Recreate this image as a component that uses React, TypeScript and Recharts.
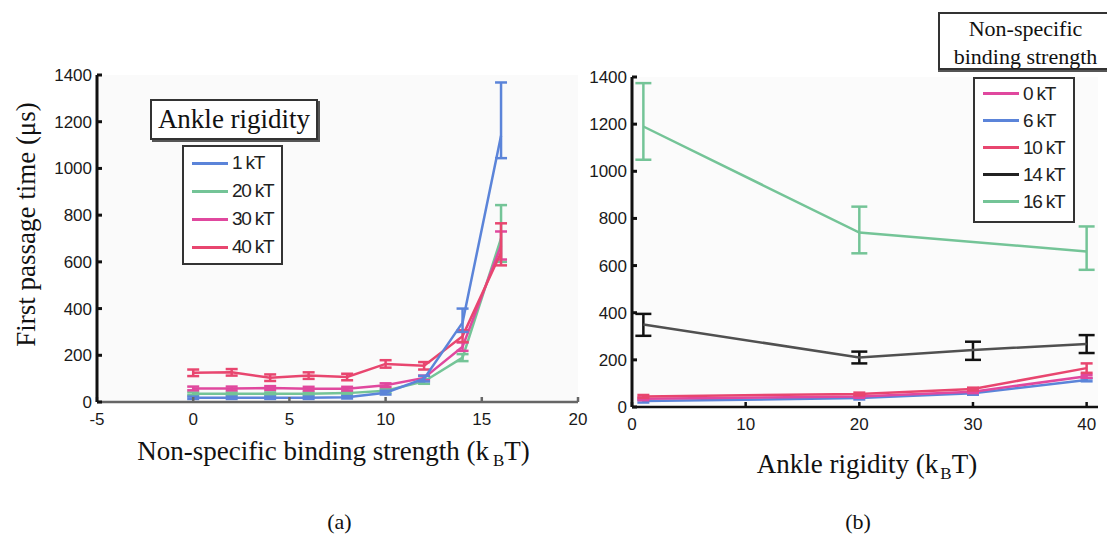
import React from "react";
import { LineChart, Line, XAxis, YAxis, ErrorBar, Legend, CartesianGrid } from "recharts";

// (a) first passage time vs non-specific binding strength, one series per ankle rigidity
const bindingX = [0, 2, 4, 6, 8, 10, 12, 14, 16];
const rig1 = [18, 18, 18, 18, 20, 40, 100, 340, 1140];
const rig1Err = [[5, 5], [5, 5], [5, 5], [5, 5], [5, 5], [8, 8], [12, 12], [40, 60], [96, 228]];
const rig20 = [35, 35, 35, 35, 38, 48, 88, 190, 700];
const rig20Err = [[6, 6], [6, 6], [6, 6], [6, 6], [6, 6], [8, 8], [10, 10], [15, 15], [100, 143]];
const rig30 = [58, 58, 60, 57, 57, 72, 103, 237, 670];
const rig30Err = [[8, 8], [8, 8], [8, 8], [8, 8], [8, 8], [8, 8], [10, 10], [18, 18], [60, 60]];
const rig40 = [125, 127, 104, 113, 107, 163, 155, 282, 640];
const rig40Err = [[14, 14], [14, 14], [14, 14], [14, 14], [14, 14], [16, 16], [16, 16], [25, 25], [55, 125]];

// (b) first passage time vs ankle rigidity, one series per binding strength
const rigidityX = [1, 20, 30, 40];
const bind0 = [35, 45, 65, 130];
const bind6 = [25, 38, 58, 115];
const bind10 = [45, 55, 76, 165];
const bind10Err = [[6, 6], [6, 6], [6, 6], [20, 20]];
const bind14 = [350, 210, 242, 267];
const bind14Err = [[48, 45], [25, 25], [42, 35], [38, 38]];
const bind16 = [1190, 740, null, 660];
const bind16Err = [[141, 184], [88, 110], null, [78, 106]];

const yTicks = [0, 200, 400, 600, 800, 1000, 1200, 1400];
const xTicksA = [-5, 0, 5, 10, 15, 20];
const xTicksB = [0, 10, 20, 30, 40];

const BLUE = "#5b84d9";
const GREEN = "#74c497";
const MAGENTA = "#e0489e";
const RED = "#e8466f";
const DARK = "#505050";

const legendA = [
  { name: "1 kT", color: BLUE },
  { name: "20 kT", color: GREEN },
  { name: "30 kT", color: MAGENTA },
  { name: "40 kT", color: RED },
];
const legendB = [
  { name: "0 kT", color: MAGENTA },
  { name: "6 kT", color: BLUE },
  { name: "10 kT", color: RED },
  { name: "14 kT", color: "#222" },
  { name: "16 kT", color: GREEN },
];

const dataA = bindingX.map((x, i) => ({
  x,
  r1: rig1[i], r1e: rig1Err[i],
  r20: rig20[i], r20e: rig20Err[i],
  r30: rig30[i], r30e: rig30Err[i],
  r40: rig40[i], r40e: rig40Err[i],
}));

const dataB = rigidityX.map((x, i) => ({
  x,
  b0: bind0[i], b0e: 6,
  b6: bind6[i], b6e: 6,
  b10: bind10[i], b10e: bind10Err[i],
  b14: bind14[i], b14e: bind14Err[i],
  b16: bind16[i], b16e: bind16Err[i],
}));

const tickFont = { fill: "#1a1a1a", fontSize: 17, fontFamily: "Liberation Sans, Arial, sans-serif" };
const serif = "Liberation Serif, Times New Roman, serif";
const noTick = () => <g />;

function Entries({ items, width, rowH, top }: { items: { name: string; color: string }[]; width: number; rowH: number; top: number }) {
  return (
    <div style={{ position: "absolute", left: 0, top: 0, width, height: "100%", paddingTop: top, boxSizing: "border-box" }}>
      {items.map((it) => (
        <div key={it.name} style={{ display: "flex", alignItems: "center", height: rowH }}>
          <div style={{ marginLeft: 8, width: 36, height: 3, background: it.color }} />
          <span style={{ marginLeft: 4, fontFamily: "Liberation Sans, Arial, sans-serif", fontSize: 19, letterSpacing: -1.2, color: "#222" }}>{it.name}</span>
        </div>
      ))}
    </div>
  );
}

function LegendA() {
  return (
    <div style={{ position: "relative", width: 170, height: 170 }}>
      <div style={{ position: "absolute", left: 0, top: 0, width: 164, height: 37, border: "2px solid #333", boxShadow: "2px 2px 0 #555", background: "#fff", fontFamily: serif, fontSize: 27, color: "#111", display: "flex", alignItems: "center", justifyContent: "center", whiteSpace: "nowrap" }}>
        Ankle rigidity
      </div>
      <div style={{ position: "absolute", left: 32, top: 46, width: 97, height: 116, border: "2px solid #333", background: "#fff" }}>
        <Entries items={legendA} width={97} rowH={28} top={2} />
      </div>
    </div>
  );
}

function LegendB() {
  return (
    <div style={{ position: "relative", width: 175, height: 210 }}>
      <div style={{ position: "absolute", left: 0, top: 0, width: 175, height: 58, border: "2px solid #333", boxShadow: "0 2px 0 #555", background: "#fff", fontFamily: serif, fontSize: 22, lineHeight: "28px", color: "#111", textAlign: "center", paddingTop: 1, boxSizing: "border-box", whiteSpace: "nowrap" }}>
        Non-specific
        <br />
        binding strength
      </div>
      <div style={{ position: "absolute", left: 35, top: 65, width: 98, height: 142, border: "2px solid #333", background: "#fff" }}>
        <Entries items={legendB} width={98} rowH={27} top={1} />
      </div>
    </div>
  );
}

export default function App() {
  return (
    <div style={{ position: "absolute", left: 0, top: 0, width: 1107, height: 541, background: "#fff", overflow: "hidden" }}>
      <div style={{ position: "absolute", left: 0, top: 0 }}>
        <LineChart width={600} height={541} data={dataA} margin={{ top: 75, right: 22, bottom: 79, left: 52 }}>
          <CartesianGrid horizontal={false} vertical={false} fill="#fafafa" />
          <XAxis dataKey="x" type="number" domain={[-5, 20]} ticks={xTicksA} interval={0} height={60} stroke="#666" strokeWidth={2.5}
            tickSize={-5} tickMargin={16} tick={tickFont}
            label={{
              content: ({ viewBox }: any) => (
                <g fontFamily={serif} fill="#111">
                  <text x={viewBox.x + viewBox.width / 2 - 4} y={viewBox.y + 58} textAnchor="middle" fontSize={27}>
                    Non-specific binding strength (k<tspan dx={4} dy={6} fontSize={17}>B</tspan><tspan dy={-6}>T)</tspan>
                  </text>
                  <text x={viewBox.x + viewBox.width / 2 + 2} y={viewBox.y + 127} textAnchor="middle" fontSize={22}>(a)</text>
                </g>
              ),
            }} />
          <XAxis xAxisId="top" orientation="top" type="number" domain={[-5, 20]} ticks={xTicksA} interval={0} height={0} stroke="#777" strokeWidth={2} tickSize={-5} tick={noTick} />
          <YAxis type="number" domain={[0, 1400]} ticks={yTicks} interval={0} width={45} stroke="#111" strokeWidth={3}
            tickSize={-5} tickMargin={10} tick={tickFont}
            label={{
              content: ({ viewBox }: any) => {
                const cx = viewBox.x - 26;
                const cy = viewBox.y + viewBox.height / 2 - 14;
                return (
                  <text x={cx} y={cy} transform={`rotate(-90 ${cx} ${cy})`}
                    textAnchor="middle" dominantBaseline="central" fontFamily={serif} fontSize={27} fill="#111">
                    First passage time (μs)
                  </text>
                );
              },
            }} />
          <YAxis yAxisId="right" orientation="right" type="number" domain={[0, 1400]} ticks={yTicks} interval={0} width={0} stroke="#111" strokeWidth={2.5} tickSize={-5} tick={noTick} />
          <Line dataKey="r20" stroke={GREEN} strokeWidth={2.5} dot={false} isAnimationActive={false}>
            <ErrorBar dataKey="r20e" width={6} stroke={GREEN} strokeWidth={2.5} isAnimationActive={false} />
          </Line>
          <Line dataKey="r30" stroke={MAGENTA} strokeWidth={2.5} dot={false} isAnimationActive={false}>
            <ErrorBar dataKey="r30e" width={6} stroke={MAGENTA} strokeWidth={2.5} isAnimationActive={false} />
          </Line>
          <Line dataKey="r40" stroke={RED} strokeWidth={2.5} dot={false} isAnimationActive={false}>
            <ErrorBar dataKey="r40e" width={6} stroke={RED} strokeWidth={2.5} isAnimationActive={false} />
          </Line>
          <Line dataKey="r1" stroke={BLUE} strokeWidth={2.5} dot={false} isAnimationActive={false}>
            <ErrorBar dataKey="r1e" width={6} stroke={BLUE} strokeWidth={2.5} isAnimationActive={false} />
          </Line>
          <Legend layout="vertical" align="center" verticalAlign="middle" content={() => <LegendA />}
            wrapperStyle={{ left: 150, top: 99, width: 170, height: 170 }} />
        </LineChart>
      </div>
      <div style={{ position: "absolute", left: 560, top: 0 }}>
        <LineChart width={547} height={541} data={dataB} margin={{ top: 77, right: 9, bottom: 74, left: 27 }}>
          <CartesianGrid horizontal={false} vertical={false} fill="#fbfbfb" />
          <XAxis dataKey="x" type="number" domain={[0, 41]} ticks={xTicksB} interval={0} height={60} stroke="#111" strokeWidth={2.5}
            tickSize={-5} tickMargin={16} tick={tickFont}
            label={{
              content: ({ viewBox }: any) => (
                <g fontFamily={serif} fill="#111">
                  <text x={viewBox.x + viewBox.width / 2 + 2} y={viewBox.y + 66} textAnchor="middle" fontSize={27}>
                    Ankle rigidity (k<tspan dx={2} dy={6} fontSize={17}>B</tspan><tspan dy={-6}>T)</tspan>
                  </text>
                  <text x={viewBox.x + viewBox.width / 2 - 7} y={viewBox.y + 122} textAnchor="middle" fontSize={22}>(b)</text>
                </g>
              ),
            }} />
          <XAxis xAxisId="top" orientation="top" type="number" domain={[0, 41]} ticks={xTicksB} interval={0} height={0} stroke="#666" strokeWidth={2} tickSize={-5} tick={noTick} />
          <YAxis type="number" domain={[0, 1400]} ticks={yTicks} interval={0} width={45} stroke="#111" strokeWidth={3}
            tickSize={-5} tickMargin={10} tick={tickFont} />
          <YAxis yAxisId="right" orientation="right" type="number" domain={[0, 1400]} ticks={yTicks} interval={0} width={0} stroke="#111" strokeWidth={2.5} tickSize={-5} tick={noTick} />
          <Line dataKey="b16" stroke={GREEN} strokeWidth={2.5} dot={false} connectNulls isAnimationActive={false}>
            <ErrorBar dataKey="b16e" width={8} stroke={GREEN} strokeWidth={2.5} isAnimationActive={false} />
          </Line>
          <Line dataKey="b14" stroke={DARK} strokeWidth={2.5} dot={false} isAnimationActive={false}>
            <ErrorBar dataKey="b14e" width={8} stroke="#111" strokeWidth={2.5} isAnimationActive={false} />
          </Line>
          <Line dataKey="b6" stroke={BLUE} strokeWidth={2.5} dot={false} isAnimationActive={false}>
            <ErrorBar dataKey="b6e" width={6} stroke={BLUE} strokeWidth={2.5} isAnimationActive={false} />
          </Line>
          <Line dataKey="b0" stroke={MAGENTA} strokeWidth={2.5} dot={false} isAnimationActive={false}>
            <ErrorBar dataKey="b0e" width={6} stroke={MAGENTA} strokeWidth={2.5} isAnimationActive={false} />
          </Line>
          <Line dataKey="b10" stroke={RED} strokeWidth={2.5} dot={false} isAnimationActive={false}>
            <ErrorBar dataKey="b10e" width={6} stroke={RED} strokeWidth={2.5} isAnimationActive={false} />
          </Line>
          <Legend layout="vertical" align="center" verticalAlign="middle" content={() => <LegendB />}
            wrapperStyle={{ left: 378, top: 12, width: 175, height: 210 }} />
        </LineChart>
      </div>
    </div>
  );
}
